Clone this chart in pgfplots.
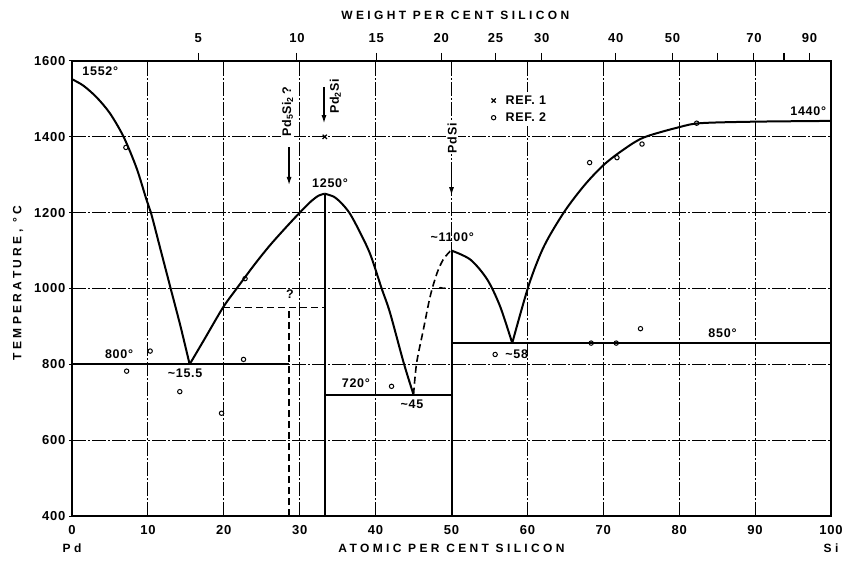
\documentclass[border=0pt]{standalone}
\usepackage{fontspec}
\setmainfont{Liberation Sans}
\newfontfamily\numf[LetterSpace=6]{Liberation Sans}
\newfontfamily\ttlf[LetterSpace=28]{Liberation Sans}
\usepackage{pgfplots}
\pgfplotsset{compat=1.18}
\usetikzlibrary{arrows.meta}
\newcommand{\nf}{\numf\bfseries\fontsize{13}{14}\selectfont}
\newcommand{\lf}{\numf\bfseries\fontsize{12.5}{14}\selectfont}
\newcommand{\tf}{\ttlf\bfseries\fontsize{12}{14}\selectfont}
\begin{document}
\begin{tikzpicture}
\begin{axis}[
  at={(0pt,0pt)}, anchor=south west,
  scale only axis, width=759pt, height=455pt,
  xmin=0, xmax=100, ymin=400, ymax=1600,
  xtick={0,10,...,100}, ytick={400,600,...,1600},
  grid=major,
  major grid style={black, line width=1pt, dash pattern=on 14pt off 2pt on 2pt off 2pt},
  axis line style={line width=1.5pt},
  xtick pos=bottom, ytick pos=left,
  tick align=outside, major tick length=3pt,
  xtick style={draw=none},
  ytick style={line width=1pt, black},
  ticklabel style={font=\nf},
  /pgf/number format/assume math mode=true,
  /pgf/number format/1000 sep={},
  xticklabel style={yshift=-3pt},
  clip=false,
  legend style={draw=none, fill=white, at={(axis cs:54.6,1473)}, anchor=west, font=\lf, row sep=3pt, inner sep=1pt},
  legend cell align=left,
  legend image code/.code={\path[draw=none, fill=none] (0pt,0pt) -- (16pt,0pt); \draw[#1] plot coordinates {(6pt,0pt)};},
]
% liquidus Pd side
\addplot[black, line width=2pt, smooth, forget plot] coordinates {
(0,1552) (1.5,1535) (3.25,1504) (5,1462) (6.8,1400) (8.5,1318) (9.8,1235) (10.4,1200) (11.7,1100) (13.0,1000) (14.3,900) (15.5,800)};
% Pd2Si left
\addplot[black, line width=2pt, smooth, forget plot] coordinates {
(15.5,800) (17.5,868) (19.9,950) (21.7,1000) (24,1062) (26,1112) (28,1157) (30,1200) (31.5,1230) (32.5,1245) (33.3,1250)};
% Pd2Si right
\addplot[black, line width=2pt, smooth, forget plot] coordinates {
(33.3,1250) (34.5,1242) (35.5,1225) (36.6,1198) (37.9,1150) (39.3,1090) (40.8,1000) (41.9,936) (43.7,804) (45,720)};
% PdSi left (dashed)
\addplot[black, line width=1.6pt, dash pattern=on 7pt off 4pt, smooth, forget plot] coordinates {
(45,720) (45.4,803) (46.3,892) (47.2,980) (48.1,1041) (48.9,1076) (49.8,1098) (50,1100)};
% PdSi right
\addplot[black, line width=2pt, smooth, forget plot] coordinates {
(50,1100) (52.5,1076) (54.7,1024) (56.4,953) (58,856)};
% Si liquidus
\addplot[black, line width=2pt, smooth, forget plot] coordinates {
(58,856) (60.2,1010) (62.2,1112) (64.85,1202) (67.5,1272) (70,1325) (72.5,1364) (75.3,1398) (79.9,1425) (82.8,1436) (90,1440) (100,1442)};
% invariant lines
\addplot[black, line width=2pt, forget plot] coordinates {(0,800) (28.6,800)};
\addplot[black, line width=2pt, forget plot] coordinates {(33.3,720) (50,720)};
\addplot[black, line width=2pt, forget plot] coordinates {(50,856) (100,856)};
\addplot[black, line width=2pt, forget plot] coordinates {(33.3,400) (33.3,1250)};
\addplot[black, line width=2pt, forget plot] coordinates {(50,400) (50,1100)};
\addplot[black, line width=1.6pt, dash pattern=on 7pt off 4pt, forget plot] coordinates {(28.6,400) (28.6,950)};
\addplot[black, line width=1.6pt, dash pattern=on 7pt off 4pt, forget plot] coordinates {(19.9,950) (33.3,950)};
% data
\addplot[only marks, mark=x, mark size=3pt, black, line width=1.2pt] coordinates {(33.3,1400)};
\addlegendentry{REF. 1}
\addplot[only marks, mark=o, mark size=2.2pt, black, line width=1pt] coordinates {
(7.1,1372) (10.3,835) (7.2,782) (14.2,728) (19.7,671) (22.6,813) (22.8,1026) (42.1,742) (55.75,826)
(68.4,856) (71.7,856) (74.9,894) (68.2,1332) (71.8,1345) (75.1,1381) (82.3,1436)};
\addlegendentry{REF. 2}
% labels
\node[font=\lf, anchor=west] at (axis cs:0.9,1574) {1552°};
\node[font=\lf] at (axis cs:34,1278) {1250°};
\node[font=\lf] at (axis cs:50.1,1134) {\textasciitilde1100°};
\node[font=\lf] at (axis cs:97,1467) {1440°};
\node[font=\lf] at (axis cs:85.7,883) {850°};
\node[font=\lf] at (axis cs:6.2,828) {800°};
\node[font=\lf] at (axis cs:14.9,776) {\textasciitilde15.5};
\node[font=\lf] at (axis cs:37.4,749) {720°};
\node[font=\lf] at (axis cs:44.8,694) {\textasciitilde45};
\node[font=\lf] at (axis cs:58.6,828) {\textasciitilde58};
\node[font=\lf] at (axis cs:28.7,984) {?};
\node[font=\lf] at (axis cs:48.8,997) {\textasciitilde};
% compound labels
\node[font=\lf, rotate=90, fill=white, inner sep=1pt] at (axis cs:28.4,1466) {Pd\textsubscript{5}Si\textsubscript{2}\,?};
\draw[line width=1.2pt, -{Latex[length=8pt,width=5pt]}] (axis cs:28.6,1372) -- (axis cs:28.6,1273);
\node[font=\lf, rotate=90, fill=white, inner sep=1pt] at (axis cs:34.7,1506) {Pd\textsubscript{2}Si};
\draw[line width=1.2pt, -{Latex[length=8pt,width=5pt]}] (axis cs:33.2,1532) -- (axis cs:33.2,1436);
\node[font=\lf, rotate=90, fill=white, inner sep=1pt] at (axis cs:50.1,1396) {PdSi};
\draw[line width=1.2pt, -{Latex[length=8pt,width=5pt]}] (axis cs:50,1330) -- (axis cs:50,1246);
% axis titles
\node[font=\tf] at (rel axis cs:0.5,0) [yshift=-32pt] {ATOMIC PER CENT SILICON};
\node[font=\tf] at (rel axis cs:0,0) [yshift=-32pt] {Pd};
\node[font=\tf] at (rel axis cs:1,0) [yshift=-32pt] {Si};
\node[xshift=-54pt, rotate=90, font=\tf] at (rel axis cs:0,0.512) {TEMPERATURE, °C};
\node[font=\tf] at (rel axis cs:0.505,1) [yshift=46pt] {WEIGHT PER CENT SILICON};
\end{axis}
\begin{axis}[
  at={(0pt,0pt)}, anchor=south west,
  scale only axis, width=759pt, height=455pt,
  xmin=0, xmax=100, ymin=0, ymax=1,
  axis x line*=top, hide y axis,
  x axis line style={-, line width=1.5pt},
  xtick={16.63,29.63,40.07,48.65,55.81,61.89,71.64,79.12,85.04,89.84,93.81,97.15},
  xticklabels={5,10,15,20,25,30,40,50,,70,,90},
  tick align=outside, major tick length=8pt,
  xtick style={line width=1.2pt, black},
  ticklabel style={font=\nf},
  /pgf/number format/assume math mode=true,
  xticklabel style={yshift=7pt},
]
\addplot[draw=none] coordinates {(0,0)};
\end{axis}
\pgfresetboundingbox
\path (-72pt,-44pt) rectangle (776pt,516pt);
\end{tikzpicture}
\end{document}
